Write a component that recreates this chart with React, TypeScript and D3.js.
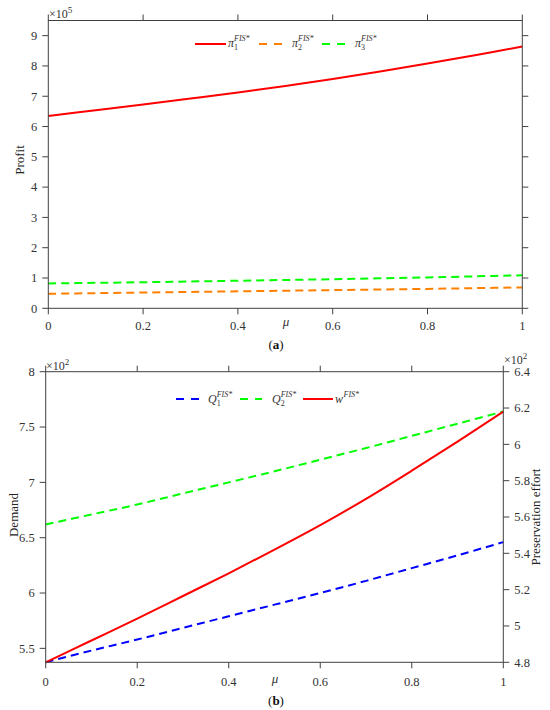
import React from "react";
import * as d3 from "d3";

// ---------- data ----------
const mu = [0, 0.1, 0.2, 0.3, 0.4, 0.5, 0.6, 0.7, 0.8, 0.9, 1];
// panel (a): profits, units of 1e5
const pi1 = [6.35, 6.54, 6.73, 6.925, 7.125, 7.34, 7.57, 7.82, 8.08, 8.355, 8.64];
const pi2 = [0.48, 0.5, 0.52, 0.54, 0.56, 0.58, 0.6, 0.62, 0.64, 0.665, 0.69];
const pi3 = [0.82, 0.84, 0.86, 0.885, 0.91, 0.935, 0.96, 0.99, 1.02, 1.055, 1.09];
// panel (b): demand (left axis, 1e2) and preservation effort (right axis, 1e2)
const Q1 = [5.374, 5.48, 5.58, 5.685, 5.79, 5.895, 6.0, 6.11, 6.225, 6.34, 6.46];
const Q2 = [6.62, 6.71, 6.8, 6.9, 7.0, 7.1, 7.205, 7.31, 7.42, 7.53, 7.64];
const wEff = [4.8, 4.92, 5.04, 5.165, 5.29, 5.42, 5.555, 5.7, 5.855, 6.015, 6.18];

const xTicks = [0, 0.2, 0.4, 0.6, 0.8, 1];
const xTickLabels = ["0", "0.2", "0.4", "0.6", "0.8", "1"];
const yTicksA = [0, 1, 2, 3, 4, 5, 6, 7, 8, 9];
const yTicksBL = [5.5, 6, 6.5, 7, 7.5, 8];
const yTicksBR = [4.8, 5, 5.2, 5.4, 5.6, 5.8, 6, 6.2, 6.4];

const AX = "#404040";
const FONT = "Liberation Serif, Times New Roman, Times, serif";
const TL = 6;

function Lbl({ base, sub, sup, x, y }: { base: string; sub?: string; sup: string; x: number; y: number }) {
  return (
    <text x={x} y={y} fontFamily={FONT} fill="#333" fontStyle="italic" fontSize={12}>
      <tspan>{base}</tspan>
      {sub ? <tspan fontSize={8} fontStyle="normal" dy={3}>{sub}</tspan> : null}
      <tspan fontSize={8} dx={sub ? -4 : 0.5} dy={sub ? -9 : -6}>{sup}</tspan>
    </text>
  );
}

function fmt(v: number) {
  return String(+v.toFixed(1));
}

export default function App() {
  const xa = d3.scaleLinear().domain([0, 1]).range([48.3, 522.3]);
  const ya = d3.scaleLinear().domain([0, 9.5]).range([308.3, 20.5]);
  const xb = d3.scaleLinear().domain([0, 1]).range([45.7, 503.3]);
  const ybL = d3.scaleLinear().domain([5.374, 8]).range([662.3, 371.7]);
  const ybR = d3.scaleLinear().domain([4.8, 6.4]).range([662.3, 371.7]);

  const mk = (xs: any, ys: any, vals: number[]) =>
    d3
      .line<number>()
      .x((_, i) => xs(mu[i]))
      .y((v) => ys(v))
      .curve(d3.curveCatmullRom)(vals) as string;

  const aL = xa(0), aR = xa(1), aT = ya(9.5), aB = ya(0);
  const bL = xb(0), bR = xb(1), bT = ybL(8), bB = ybL(5.374);

  return (
    <svg width={550} height={710} style={{ position: "absolute", left: 0, top: 0, background: "#fff" }}>
      <rect x={0} y={0} width={550} height={710} fill="#fff" />
      {/* ---------------- panel (a) ---------------- */}
      <g>
        <path d={mk(xa, ya, pi1)} fill="none" stroke="#ff0000" strokeWidth={2} />
        <path d={mk(xa, ya, pi2)} fill="none" stroke="#ff8000" strokeWidth={2} strokeDasharray="8,5" />
        <path d={mk(xa, ya, pi3)} fill="none" stroke="#00ff00" strokeWidth={2} strokeDasharray="8,5" />
        <rect x={aL} y={aT} width={aR - aL} height={aB - aT} fill="none" stroke={AX} strokeWidth={1} />
        {xTicks.map((t, i) => (
          <g key={"xa" + i}>
            <line x1={xa(t)} x2={xa(t)} y1={aB} y2={aB + TL} stroke={AX} />
            <line x1={xa(t)} x2={xa(t)} y1={aT} y2={aT - TL} stroke={AX} />
            <text x={xa(t)} y={330} textAnchor="middle" fontFamily={FONT} fontSize={12.5} fill="#333">
              {xTickLabels[i]}
            </text>
          </g>
        ))}
        {yTicksA.map((t) => (
          <g key={"ya" + t}>
            <line x1={aL} x2={aL - TL} y1={ya(t)} y2={ya(t)} stroke={AX} />
            <line x1={aR} x2={aR + TL} y1={ya(t)} y2={ya(t)} stroke={AX} />
            <text x={aL - 11} y={ya(t) + 4.3} textAnchor="end" fontFamily={FONT} fontSize={12.5} fill="#333">
              {t}
            </text>
          </g>
        ))}
        <text x={49} y={18} fontFamily={FONT} fontSize={12} fill="#333">
          ×10<tspan fontSize={9} dy={-5}>5</tspan>
        </text>
        <text transform="translate(24,160) rotate(-90)" textAnchor="middle" fontFamily={FONT} fontSize={13} fill="#222">
          Profit
        </text>
        <text x={286} y={326} textAnchor="middle" fontFamily={FONT} fontStyle="italic" fontSize={13} fill="#333">
          μ
        </text>
        <text x={276} y={349} textAnchor="middle" fontFamily={FONT} fontSize={13} fill="#111">
          (<tspan fontWeight="bold">a</tspan>)
        </text>
        {/* legend */}
        <line x1={195} x2={226} y1={44} y2={44} stroke="#ff0000" strokeWidth={2} />
        <Lbl base="π" sub="1" sup="FIS*" x={228} y={47} />
        <line x1={259} x2={282} y1={44} y2={44} stroke="#ff8000" strokeWidth={2} strokeDasharray="8,7" />
        <Lbl base="π" sub="2" sup="FIS*" x={292} y={47} />
        <line x1={322} x2={345} y1={44} y2={44} stroke="#00ff00" strokeWidth={2} strokeDasharray="8,7" />
        <Lbl base="π" sub="3" sup="FIS*" x={355} y={47} />
      </g>

      {/* ---------------- panel (b) ---------------- */}
      <g>
        <path d={mk(xb, ybL, Q2)} fill="none" stroke="#00ff00" strokeWidth={2} strokeDasharray="8,5" />
        <path d={mk(xb, ybL, Q1)} fill="none" stroke="#0000ff" strokeWidth={2} strokeDasharray="8,5" />
        <path d={mk(xb, ybR, wEff)} fill="none" stroke="#ff0000" strokeWidth={2} />
        <rect x={bL} y={bT} width={bR - bL} height={bB - bT} fill="none" stroke={AX} strokeWidth={1} />
        {xTicks.map((t, i) => (
          <g key={"xb" + i}>
            <line x1={xb(t)} x2={xb(t)} y1={bB} y2={bB + TL} stroke={AX} />
            <line x1={xb(t)} x2={xb(t)} y1={bT} y2={bT - TL} stroke={AX} />
            <text x={xb(t)} y={686} textAnchor="middle" fontFamily={FONT} fontSize={12.5} fill="#333">
              {xTickLabels[i]}
            </text>
          </g>
        ))}
        {yTicksBL.map((t) => (
          <g key={"ybl" + t}>
            <line x1={bL} x2={bL - TL} y1={ybL(t)} y2={ybL(t)} stroke={AX} />
            <text x={bL - 11} y={ybL(t) + 4.3} textAnchor="end" fontFamily={FONT} fontSize={12.5} fill="#333">
              {fmt(t)}
            </text>
          </g>
        ))}
        {yTicksBR.map((t) => (
          <g key={"ybr" + t}>
            <line x1={bR} x2={bR + TL} y1={ybR(t)} y2={ybR(t)} stroke={AX} />
            <text x={bR + 11} y={ybR(t) + 4.3} textAnchor="start" fontFamily={FONT} fontSize={12.5} fill="#333">
              {fmt(t)}
            </text>
          </g>
        ))}
        <text x={46} y={370} fontFamily={FONT} fontSize={12} fill="#333">
          ×10<tspan fontSize={9} dy={-5}>2</tspan>
        </text>
        <text x={504} y={364} fontFamily={FONT} fontSize={12} fill="#333">
          ×10<tspan fontSize={9} dy={-5}>2</tspan>
        </text>
        <text transform="translate(18,515) rotate(-90)" textAnchor="middle" fontFamily={FONT} fontSize={13} fill="#222">
          Demand
        </text>
        <text transform="translate(540,517) rotate(-90)" textAnchor="middle" fontFamily={FONT} fontSize={13} fill="#222">
          Preservation effort
        </text>
        <text x={275} y={683} textAnchor="middle" fontFamily={FONT} fontStyle="italic" fontSize={13} fill="#333">
          μ
        </text>
        <text x={276} y={705} textAnchor="middle" fontFamily={FONT} fontSize={13} fill="#111">
          (<tspan fontWeight="bold">b</tspan>)
        </text>
        {/* legend */}
        <line x1={176} x2={199} y1={399} y2={399} stroke="#0000ff" strokeWidth={2} strokeDasharray="8,7" />
        <Lbl base="Q" sub="1" sup="FIS*" x={208} y={403} />
        <line x1={240} x2={262} y1={399} y2={399} stroke="#00ff00" strokeWidth={2} strokeDasharray="8,7" />
        <Lbl base="Q" sub="2" sup="FIS*" x={272} y={403} />
        <line x1={303} x2={333} y1={399} y2={399} stroke="#ff0000" strokeWidth={2} />
        <Lbl base="w" sup="FIS*" x={335} y={403} />
      </g>
    </svg>
  );
}
